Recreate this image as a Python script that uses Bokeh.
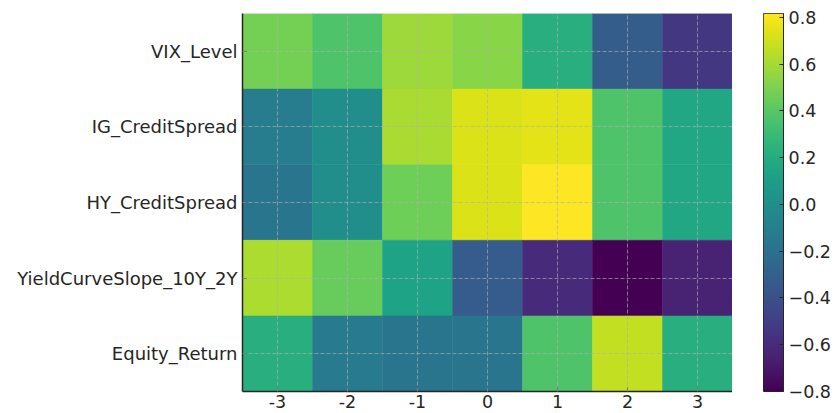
import numpy as np
from bokeh.plotting import figure
from bokeh.layouts import row
from bokeh.models import Range1d, FactorRange, LinearColorMapper, FixedTicker, ColumnDataSource
from bokeh.palettes import Viridis256
from bokeh.transform import transform
from bokeh.embed import file_html
from bokeh.resources import INLINE

lags = [-3, -2, -1, 0, 1, 2, 3]
variables = ["VIX_Level", "IG_CreditSpread", "HY_CreditSpread", "YieldCurveSlope_10Y_2Y", "Equity_Return"]
vix_level = [0.48, 0.37, 0.58, 0.53, 0.22, -0.32, -0.54]
ig_spread = [-0.12, 0.00, 0.61, 0.73, 0.75, 0.37, 0.17]
hy_spread = [-0.17, 0.00, 0.46, 0.73, 0.817, 0.37, 0.17]
curve_slope = [0.62, 0.44, 0.14, -0.33, -0.61, -0.80, -0.64]
equity_ret = [0.22, -0.14, -0.17, -0.17, 0.37, 0.67, 0.22]
cbar_ticks = [-0.8, -0.6, -0.4, -0.2, 0.0, 0.2, 0.4, 0.6, 0.8]

rows = [vix_level, ig_spread, hy_spread, curve_slope, equity_ret]
xs, ys, vs = [], [], []
for name, r in zip(variables, rows):
    for lag, v in zip(lags, r):
        xs.append(lag)
        ys.append(name)
        vs.append(v)
src = ColumnDataSource(dict(lag=xs, var=ys, val=vs))

low, high = min(vs), max(vs)
mapper = LinearColorMapper(palette=Viridis256, low=low, high=high)

TXT = "#262626"
FONT = "DejaVu Sans"
TOP = 13
BOTTOM = 22
H = 413

p = figure(width=732, height=H, output_backend="svg", toolbar_location=None,
           x_range=Range1d(-3.5, 3.5),
           y_range=FactorRange(factors=list(reversed(variables)), range_padding=0),
           min_border_left=242, min_border_top=TOP, min_border_bottom=BOTTOM, min_border_right=0)
p.outline_line_color = None

p.rect(x="lag", y="var", width=1, height=1, source=src,
       fill_color=transform("val", mapper), line_color=transform("val", mapper), line_width=0.5)

for ax, fs in ((p.xaxis[0], "17.5px"), (p.yaxis[0], "18px")):
    ax.axis_line_color = TXT
    ax.axis_line_width = 1.5
    ax.major_tick_line_color = TXT
    ax.major_tick_in = 4
    ax.major_tick_out = 0
    ax.minor_tick_line_color = None
    ax.major_label_text_font = FONT
    ax.major_label_text_font_size = fs
    ax.major_label_text_color = TXT
p.yaxis.major_label_standoff = 5
p.xaxis.major_label_standoff = 3

p.xaxis.ticker = FixedTicker(ticks=lags)
p.xaxis.major_label_overrides = {l: str(l) for l in lags}

for g in (p.xgrid[0], p.ygrid[0]):
    g.level = "overlay"
    g.grid_line_color = "#b0b0b0"
    g.grid_line_alpha = 0.8
    g.grid_line_dash = "4 2"
    g.grid_line_width = 0.8
p.xgrid.ticker = FixedTicker(ticks=lags)

# colour bar as its own small figure
cb = figure(width=31 + 20 + 50, height=H, output_backend="svg", toolbar_location=None,
            x_range=Range1d(0, 1), y_range=Range1d(low, high), y_axis_location="right",
            min_border_left=31, min_border_top=TOP, min_border_bottom=BOTTOM, min_border_right=0)
grad = np.linspace(low, high, 256).reshape(-1, 1)
cb.image(image=[grad], x=0, y=low, dw=1, dh=high - low, color_mapper=mapper)
cb.xaxis.visible = False
cb.grid.visible = False
cb.outline_line_color = TXT
cb.outline_line_width = 1
ya = cb.yaxis[0]
ya.ticker = FixedTicker(ticks=cbar_ticks)
ya.major_label_overrides = {t: ("%.1f" % t).replace("-", "\u2212") for t in cbar_ticks}
ya.axis_line_color = TXT
ya.major_tick_line_color = TXT
ya.major_tick_in = 4
ya.major_tick_out = 0
ya.minor_tick_line_color = None
ya.major_label_standoff = 5
ya.major_label_text_font = FONT
ya.major_label_text_font_size = "17.5px"
ya.major_label_text_color = TXT

layout = row(p, cb, spacing=0)
open("out.html", "w").write(file_html(layout, INLINE))
